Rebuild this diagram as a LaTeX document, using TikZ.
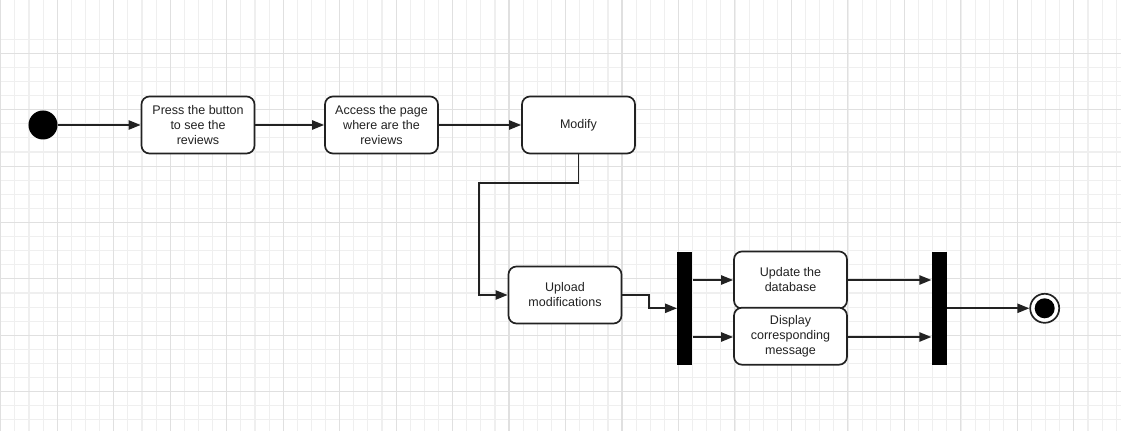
\documentclass[tikz,border=0pt]{standalone}
\usepackage{fontspec}
\setmainfont{Liberation Sans}
\usepackage{tikz}
\usetikzlibrary{arrows.meta, positioning}
\definecolor{gridminor}{HTML}{EFEFEF}
\definecolor{gridmajor}{HTML}{E0E0E0}
\definecolor{ink}{HTML}{222222}

\begin{document}
\begin{tikzpicture}[
  x=0.025cm, y=-0.025cm,
  action/.style={rectangle, draw=ink, line width=1.2pt, rounded corners=0.2cm, fill=white,
    minimum width=2.825cm, minimum height=1.425cm, align=center, text=ink,
    font=\fontsize{8.9pt}{10.7pt}\selectfont, inner sep=1pt},
  bar/.style={rectangle, fill=black, draw=none, minimum width=0.375cm, minimum height=2.83cm, inner sep=0pt},
  arrow/.style={-{Triangle[length=8.5pt, width=6.5pt]}, line width=1.3pt, draw=ink}
]
% background grid
\useasboundingbox (0,0) rectangle (1121,431);
\fill[white] (0,0) rectangle (1121,431);
\foreach \i in {0,...,80} {
  \draw[gridminor, line width=0.8pt] ({0.8+14.12*\i},0) -- ({0.8+14.12*\i},431);
}
\foreach \i in {-1,...,31} {
  \draw[gridminor, line width=0.8pt] (0,{53.3+14.1*\i}) -- (1121,{53.3+14.1*\i});
}
\foreach \i in {0,...,20} {
  \draw[gridmajor, line width=0.8pt] ({0.8+56.47*\i},0) -- ({0.8+56.47*\i},431);
}
\foreach \i in {-1,...,7} {
  \draw[gridmajor, line width=0.8pt] (0,{53.3+56.4*\i}) -- (1121,{53.3+56.4*\i});
}

% nodes
\node[circle, fill=black, minimum size=0.725cm, inner sep=0pt] (start) at (43,125) {};
\node[action] (press) at (198,125) {Press the button\\to see the\\reviews};
\node[action] (access) at (381.5,125) {Access the page\\where are the\\reviews};
\node[action] (modify) at (578.5,125) {Modify};
\node[action] (upload) at (565,295) {Upload\\modifications};
\node[bar] (fork) at (684.8,308.3) {};
\node[action] (update) at (790.5,280) {Update the\\database};
\node[action] (display) at (790.5,336.2) {Display\\corresponding\\message};
\node[bar] (join) at (939.2,308.3) {};
\node[circle, draw=ink, line width=1.2pt, fill=white, minimum size=0.725cm, inner sep=0pt] (end) at (1044.7,308.3) {};
\fill[black] (end.center) circle (0.25cm);
\coordinate (bend) at (479.3,295);

% connectors
\draw[arrow] (start) -- (press);
\draw[arrow] (press) -- (access);
\draw[arrow] (access) -- (modify);
\draw[arrow] (modify.south) -- ++(0,28.7) -| (bend) -- (upload.west);
\draw[arrow] (upload.east) -- ++(27,0) |- (fork);
\draw[arrow] (fork.east |- update.west) -- (update.west);
\draw[arrow] (fork.east |- 0,337) -- (display.west |- 0,337);
\draw[arrow] (update.east) -- (update.east -| join.west);
\draw[arrow] (display.east |- 0,337) -- (join.west |- 0,337);
\draw[arrow] (join) -- (end);

\end{tikzpicture}
\end{document}
